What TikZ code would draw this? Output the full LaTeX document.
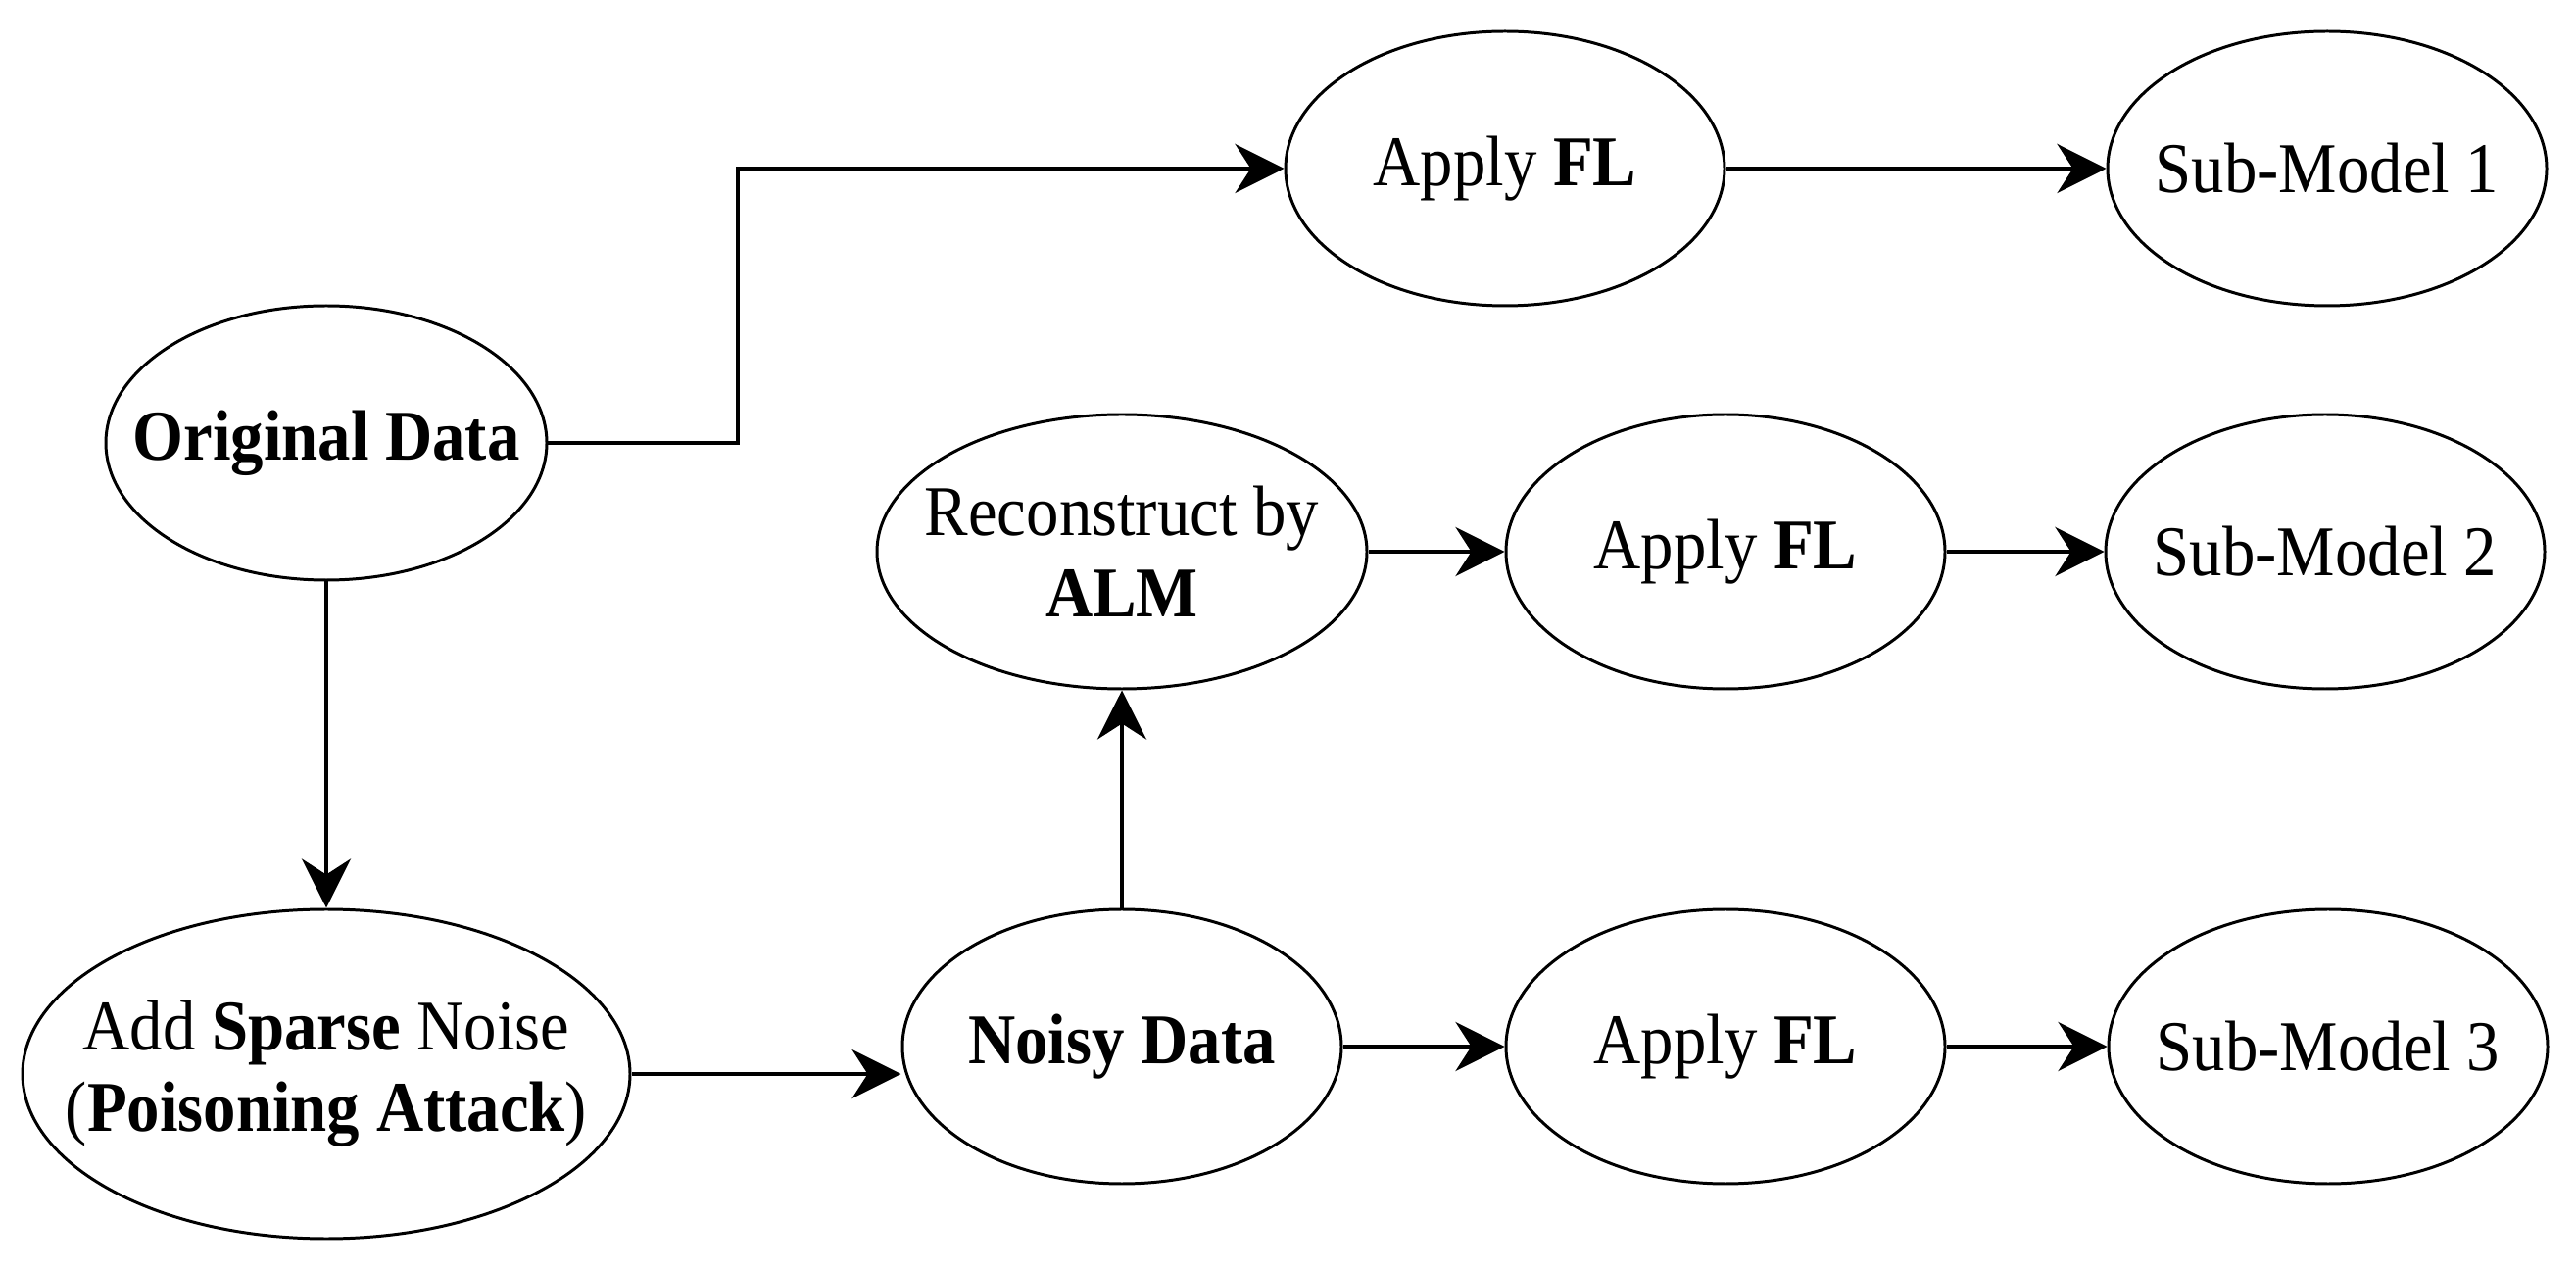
\documentclass[tikz,border=0pt]{standalone}
\usepackage{fontspec}
\setmainfont{Liberation Serif}
\usetikzlibrary{arrows.meta,shapes.geometric}
\newcommand{\vst}[1]{\scalebox{1}[1.09]{#1}}
\tikzset{
  ell/.style={draw=black, line width=0.85pt, ellipse, inner sep=0pt, fill=white},
  stdell/.style={ell, minimum width=4.48cm, minimum height=2.8cm},
  txt/.style={align=center, inner sep=0pt, font=\fontsize{19}{23.6}\selectfont},
  conn/.style={draw=black, line width=1.3pt, -{Stealth[length=0.5cm, width=0.5cm, inset=0.16cm]}},
}
\begin{document}
\begin{tikzpicture}
\useasboundingbox (0,0) rectangle (26.29,-12.94);
% nodes
\node[ell, minimum width=4.5cm, minimum height=2.8cm] (orig) at (3.33,-4.52) {};
\node[txt] (origt) at (orig.center) {\vst{\textbf{Original Data}}};
\node[ell, minimum width=6.2cm, minimum height=3.36cm] (add) at (3.33,-10.96) {};
\node[txt] (addt) at (add.center) {\vst{Add \textbf{Sparse} Noise}\\\vst{(\textbf{Poisoning Attack})}};
\node[stdell] (noisy) at (11.45,-10.68) {};
\node[txt] (noisyt) at (noisy.center) {\vst{\textbf{Noisy Data}}};
\node[ell, minimum width=5.0cm, minimum height=2.8cm] (recon) at (11.45,-5.63) {};
\node[txt] (recont) at (recon.center) {\vst{Reconstruct by}\\\vst{\textbf{ALM}}};
\node[stdell] (fla) at (15.36,-1.72) {};
\node[txt] (flat) at (fla.center) {\vst{Apply \textbf{FL}}};
\node[stdell] (sma) at (23.75,-1.72) {};
\node[txt] (smat) at (sma.center) {\vst{Sub-Model 1}};
\node[stdell] (flb) at (17.61,-5.63) {};
\node[txt] (flbt) at (flb.center) {\vst{Apply \textbf{FL}}};
\node[stdell] (smb) at (23.73,-5.63) {};
\node[txt] (smbt) at (smb.center) {\vst{Sub-Model 2}};
\node[stdell] (flc) at (17.61,-10.68) {};
\node[txt] (flct) at (flc.center) {\vst{Apply \textbf{FL}}};
\node[stdell] (smc) at (23.76,-10.68) {};
\node[txt] (smct) at (smc.center) {\vst{Sub-Model 3}};
% connectors
\coordinate (bend) at (7.53,-4.52);
\draw[conn] (orig.east) -- (bend) |- (fla.west);
\draw[conn] (fla.east) -- (sma.west);
\draw[conn] (orig.south) -- (add.north);
\draw[conn] (add.east) -- (noisy.west |- add.east);
\draw[conn] (noisy.north) -- (recon.south);
\draw[conn] (recon.east) -- (flb.west);
\draw[conn] (flb.east) -- (smb.west);
\draw[conn] (noisy.east) -- (flc.west);
\draw[conn] (flc.east) -- (smc.west);
\end{tikzpicture}
\end{document}
